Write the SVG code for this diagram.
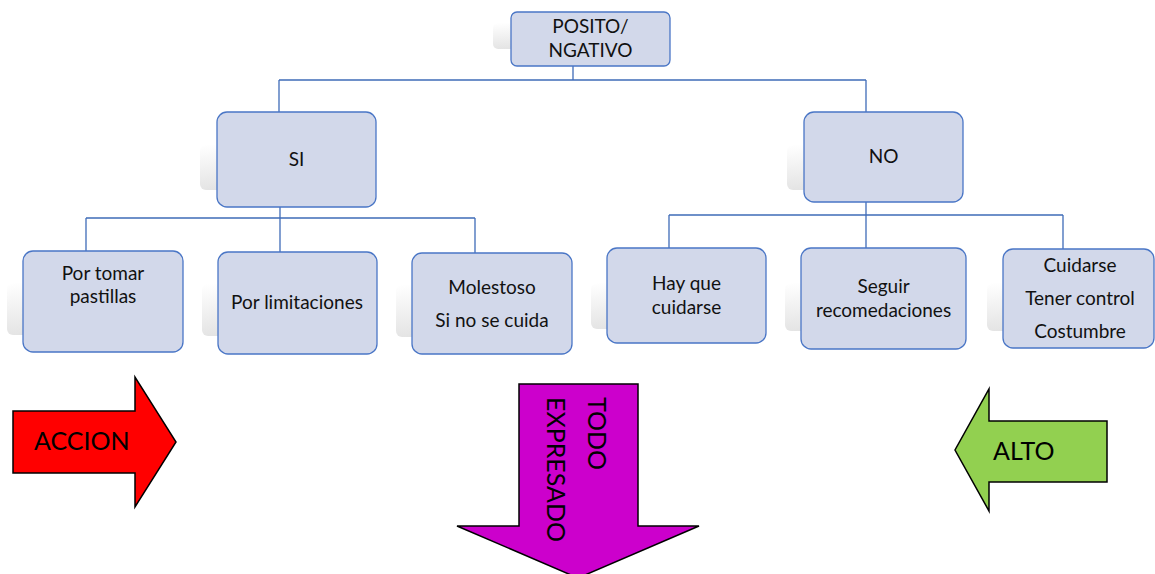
<svg xmlns="http://www.w3.org/2000/svg" width="1155" height="574" viewBox="0 0 1155 574">
<defs>
<linearGradient id="sh" x1="0" y1="0" x2="0.3" y2="1">
<stop offset="0" stop-color="#ffffff"/>
<stop offset="1" stop-color="#e2e2e2"/>
</linearGradient>
<style>
.box{fill:#d2d8ea;stroke:#4a76c6;stroke-width:1.3}
.shd{fill:url(#sh)}
.ln{fill:none;stroke:#3f6cb8;stroke-width:1.3}
.t{font-family:Lato,"Liberation Sans",sans-serif;font-size:19px;fill:#111;text-anchor:middle}
.a{stroke:#000;stroke-width:1.5}
.at{font-family:Lato,"Liberation Sans",sans-serif;font-size:25px;fill:#000}
</style>
</defs>
<rect width="1155" height="574" fill="#fff"/>
<g id="connectors">
<path class="ln" d="M573 66V80M279 80H866M279 80V112M866 80V112"/>
<path class="ln" d="M280 207V218M86 218H475M86 218V251M280 218V252M475 218V253"/>
<path class="ln" d="M866 202V215M669 215H1063M669 215V248M866 215V248M1063 215V249"/>
</g>
<g id="n-top">
<rect class="shd" x="493" y="23" width="150" height="26" rx="5"/>
<rect class="box" x="511" y="12" width="159" height="54" rx="6"/>
<text class="t" x="590.5" y="33">POSITO/</text>
<text class="t" x="590.5" y="57">NGATIVO</text>
</g>
<g id="n-si">
<rect class="shd" x="200" y="145" width="150" height="45" rx="6"/>
<rect class="box" x="217" y="112" width="159" height="95" rx="10"/>
<text class="t" x="296.5" y="166">SI</text>
</g>
<g id="n-no">
<rect class="shd" x="787" y="145" width="150" height="45" rx="6"/>
<rect class="box" x="804" y="112" width="159" height="90" rx="10"/>
<text class="t" x="883.5" y="163">NO</text>
</g>
<g id="n-tomar">
<rect class="shd" x="7" y="283" width="155" height="52" rx="6"/>
<rect class="box" x="23" y="251" width="160" height="101" rx="10"/>
<text class="t" x="103" y="280">Por tomar</text>
<text class="t" x="103" y="303">pastillas</text>
</g>
<g id="n-limit">
<rect class="shd" x="202" y="284" width="155" height="52" rx="6"/>
<rect class="box" x="218" y="252" width="159" height="102" rx="10"/>
<text class="t" x="297" y="309">Por limitaciones</text>
</g>
<g id="n-molest">
<rect class="shd" x="396" y="285" width="155" height="52" rx="6"/>
<rect class="box" x="412" y="253" width="160" height="101" rx="10"/>
<text class="t" x="492" y="294">Molestoso</text>
<text class="t" x="492" y="327">Si no se cuida</text>
</g>
<g id="n-hay">
<rect class="shd" x="591" y="283" width="155" height="46" rx="6"/>
<rect class="box" x="607" y="248" width="159" height="95" rx="10"/>
<text class="t" x="686.5" y="290">Hay que</text>
<text class="t" x="686.5" y="314">cuidarse</text>
</g>
<g id="n-seguir">
<rect class="shd" x="785" y="283" width="160" height="48" rx="6"/>
<rect class="box" x="801" y="248" width="165" height="101" rx="10"/>
<text class="t" x="883.5" y="293">Seguir</text>
<text class="t" x="883.5" y="317">recomedaciones</text>
</g>
<g id="n-cuid">
<rect class="shd" x="987" y="283" width="150" height="48" rx="6"/>
<rect class="box" x="1003" y="249" width="151" height="99" rx="10"/>
<text class="t" x="1080" y="272">Cuidarse</text>
<text class="t" x="1080" y="305">Tener control</text>
<text class="t" x="1080" y="338">Costumbre</text>
</g>
<g id="arrow-accion">
<polygon class="a" fill="#ff0000" points="13,411 135,411 135,377 176,442 135,507 135,473 13,473"/>
<text class="at" x="34" y="450">ACCION</text>
</g>
<g id="arrow-todo">
<polygon class="a" fill="#cc00cc" points="519,384 638,384 638,526 699,526 578,578 457,526 519,526"/>
<text class="at" transform="translate(588,397) rotate(90)">TODO</text>
<text class="at" transform="translate(547,397) rotate(90)">EXPRESADO</text>
</g>
<g id="arrow-alto">
<polygon class="a" fill="#92d050" points="1107,421 989,421 989,389 955,450 989,511 989,482 1107,482"/>
<text class="at" x="993" y="460">ALTO</text>
</g>
</svg>
